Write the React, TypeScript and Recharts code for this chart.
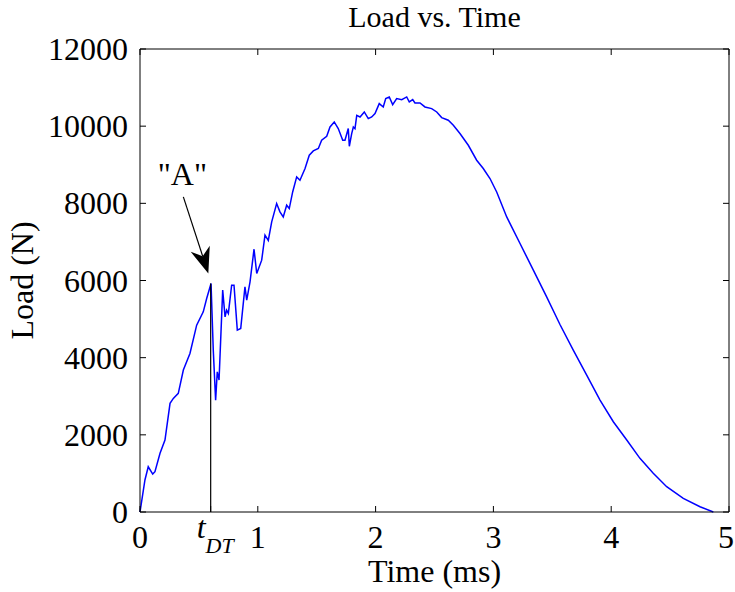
import React from 'react';
import { LineChart, Line, XAxis, YAxis, ReferenceLine } from 'recharts';

// time (ms) and load (N)
const times = [
  0, 0.042, 0.07, 0.108, 0.127, 0.17, 0.212, 0.255, 0.283, 0.325, 0.368, 0.424, 0.481, 0.537, 0.566, 0.603,
  0.622, 0.642, 0.656, 0.671, 0.702, 0.722, 0.735, 0.75, 0.778, 0.798, 0.826, 0.855, 0.891, 0.906, 0.934,
  0.968, 0.991, 1.033, 1.061, 1.089, 1.118, 1.16, 1.188, 1.216, 1.245, 1.267, 1.296, 1.33, 1.358, 1.401,
  1.437, 1.471, 1.514, 1.542, 1.585, 1.613, 1.649, 1.683, 1.721, 1.74, 1.768, 1.777, 1.797, 1.811, 1.825,
  1.84, 1.868, 1.904, 1.938, 1.967, 1.995, 2.031, 2.065, 2.086, 2.116, 2.145, 2.179, 2.222, 2.264, 2.286,
  2.315, 2.334, 2.377, 2.419, 2.476, 2.519, 2.561, 2.617, 2.66, 2.716, 2.787, 2.858, 2.914, 2.971, 3.028,
  3.113, 3.226, 3.339, 3.452, 3.565, 3.678, 3.792, 3.905, 4.018, 4.132, 4.244, 4.357, 4.471, 4.612,
  4.754, 4.867,
];
const loads = [
  0, 830, 1173, 984, 1044, 1520, 1865, 2815, 2945, 3074, 3678, 4110, 4843, 5188, 5535, 5923,
  4196, 2900, 3634, 3419, 5750, 5058, 5232, 5146, 5880, 5880, 4714, 4757, 5836, 5491, 5965,
  6811, 6182, 6527, 7174, 7040, 7519, 7995, 7778, 7649, 7951, 7865, 8295, 8685, 8599, 8902,
  9246, 9358, 9420, 9635, 9738, 9979, 10109, 9938, 9635, 9635, 9938, 9479, 9808, 9979, 9935,
  10282, 10239, 10368, 10196, 10239, 10326, 10585, 10498, 10714, 10757, 10559, 10714, 10688, 10757, 10627,
  10688, 10600, 10600, 10498, 10455, 10368, 10222, 10153, 10023, 9808, 9505, 9117, 8902, 8643, 8295,
  7648, 6959, 6268, 5576, 4860, 4196, 3548, 2901, 2339, 1865, 1391, 1002, 655, 355,
  137, 0,
];

const xTicks = [0, 0.6, 1, 2, 3, 4, 5];
const yTicks = [0, 2000, 4000, 6000, 8000, 10000, 12000];
const tDT = 0.6;
const peakLoad = 5923;
const arrowTail = { x: 0.368, y: 8166 };
const arrowTip = { x: 0.58, y: 6182 };

const data = times.map((t, i) => ({ t, load: loads[i] }));

const FONT = 'Liberation Serif, Times New Roman, serif';
const FS = 32;

const BottomTick = ({ x, y, payload }: any) => {
  const v = payload.value;
  if (v === tDT) {
    return (
      <text x={x - 14} y={y + 26} fontFamily={FONT} fontSize={FS} fontStyle="italic" fill="#000">
        t<tspan dy={15} fontSize={22}>DT</tspan>
      </text>
    );
  }
  // last label sits on the window edge; nudge it in a little so it stays whole
  const nx = v === 5 ? x - 3 : x;
  return (
    <text x={nx} y={y + 36} textAnchor="middle" fontFamily={FONT} fontSize={FS} fill="#000">{v}</text>
  );
};

const LeftTick = ({ x, y, payload }: any) => (
  <text x={x - 12} y={y + 11} textAnchor="end" fontFamily={FONT} fontSize={FS} fill="#000">{payload.value}</text>
);

const Empty = () => <g />;

const Arrow = ({ x1, y1, x2, y2 }: any) => {
  const dx = x2 - x1;
  const dy = y2 - y1;
  const len = Math.sqrt(dx * dx + dy * dy);
  const ux = dx / len;
  const uy = dy / len;
  const nx = -uy;
  const ny = ux;
  const L = 26;
  const W = 10;
  const bx = x2 - ux * L;
  const by = y2 - uy * L;
  const notchX = x2 - ux * L * 0.7;
  const notchY = y2 - uy * L * 0.7;
  const pts = `${x2},${y2} ${bx + nx * W},${by + ny * W} ${notchX},${notchY} ${bx - nx * W},${by - ny * W}`;
  return (
    <g>
      <line x1={x1} y1={y1} x2={notchX} y2={notchY} stroke="#000" strokeWidth={1.2} />
      <polygon points={pts} fill="#000" />
      <text x={x1 - 1} y={y1 - 12} textAnchor="middle" fontFamily={FONT} fontSize={FS} fill="#000">"A"</text>
    </g>
  );
};

export default function App() {
  return (
    <div style={{ position: 'absolute', left: 0, top: 0, background: '#fff' }}>
      <LineChart width={735} height={592} data={data} margin={{ top: 48, right: 5, bottom: 0, left: 0 }}>
        <XAxis
          dataKey="t"
          type="number"
          domain={[0, 5]}
          ticks={xTicks}
          interval={0}
          height={80}
          tickSize={-6}
          tickMargin={6}
          tickLine={{ stroke: '#000' }}
          axisLine={{ stroke: '#000' }}
          tick={BottomTick}
          label={{
            content: ({ viewBox }: any) => (
              <text x={viewBox.x + viewBox.width / 2} y={viewBox.y + 70} textAnchor="middle" fontFamily={FONT} fontSize={FS} fill="#000">
                Time (ms)
              </text>
            ),
          }}
        />
        <XAxis
          xAxisId="top"
          orientation="top"
          dataKey="t"
          type="number"
          domain={[0, 5]}
          ticks={[0, 1, 2, 3, 4, 5]}
          interval={0}
          height={1}
          tickSize={-6}
          tickMargin={6}
          tickLine={{ stroke: '#000' }}
          axisLine={{ stroke: '#000' }}
          tick={Empty}
          label={{
            content: ({ viewBox }: any) => (
              <text x={viewBox.x + viewBox.width / 2} y={viewBox.y - 21} textAnchor="middle" fontFamily={FONT} fontSize={30} fill="#000">
                Load vs. Time
              </text>
            ),
          }}
        />
        <YAxis
          type="number"
          domain={[0, 12000]}
          ticks={yTicks}
          interval={0}
          width={140}
          tickSize={-6}
          tickMargin={6}
          tickLine={{ stroke: '#000' }}
          axisLine={{ stroke: '#000' }}
          tick={LeftTick}
          label={{
            content: ({ viewBox }: any) => {
              const cx = viewBox.x + 33;
              const cy = viewBox.y + viewBox.height / 2;
              return (
                <text x={cx} y={cy} transform={`rotate(-90, ${cx}, ${cy})`} textAnchor="middle" fontFamily={FONT} fontSize={FS} fill="#000">
                  Load (N)
                </text>
              );
            },
          }}
        />
        <YAxis
          yAxisId="right"
          orientation="right"
          type="number"
          domain={[0, 12000]}
          ticks={yTicks}
          interval={0}
          width={1}
          tickSize={-6}
          tickMargin={6}
          tickLine={{ stroke: '#000' }}
          axisLine={{ stroke: '#000' }}
          tick={Empty}
        />
        {/* invisible twin so the top/right frame axes get drawn */}
        <Line
          xAxisId="top"
          yAxisId="right"
          dataKey="load"
          stroke="none"
          dot={false}
          legendType="none"
          isAnimationActive={false}
        />
        <Line
          dataKey="load"
          type="linear"
          stroke="#0000ff"
          strokeWidth={1.5}
          dot={false}
          isAnimationActive={false}
        />
        <ReferenceLine
          segment={[{ x: tDT, y: 0 }, { x: tDT, y: peakLoad }]}
          stroke="#000"
          strokeWidth={1.2}
        />
        <ReferenceLine segment={[arrowTail, arrowTip]} shape={Arrow} ifOverflow="visible" />
      </LineChart>
    </div>
  );
}
